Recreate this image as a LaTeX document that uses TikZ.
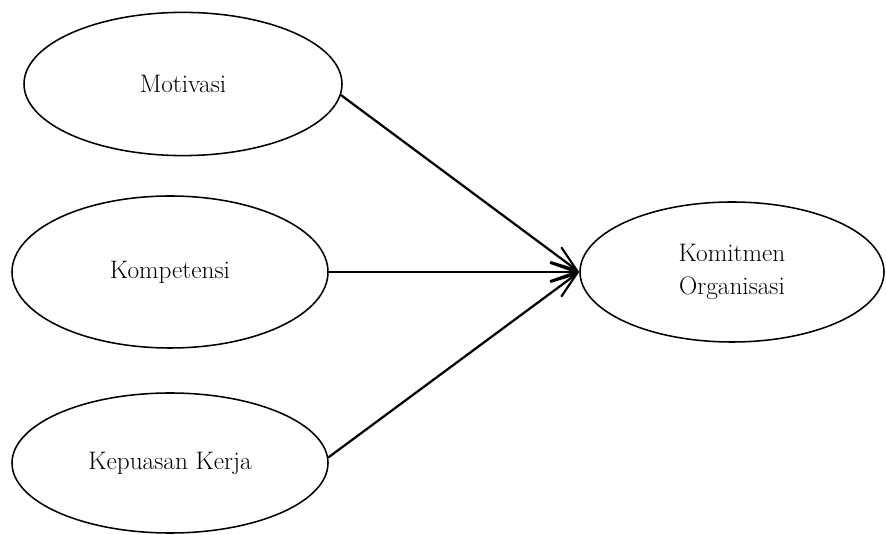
\documentclass[tikz,border=0pt]{standalone}
\usepackage{fontspec}
\usepackage{tikz}
\usetikzlibrary{arrows.meta,positioning,shapes.geometric}

\begin{document}
\begin{tikzpicture}[
  latent/.style={ellipse,draw=black,line width=1.1pt,inner sep=0pt,align=center,font=\fontsize{18}{23}\selectfont},
  arrow/.style={-{Straight Barb[length=6.5mm,width=4.6mm,line width=1.5pt]},line width=1.6pt,draw=black}
]
\useasboundingbox (0,0) rectangle (22.15,13.375);
\node[latent,minimum width=7.95cm,minimum height=3.58cm] (mot) at (4.575,11.275) {Motivasi};
\node[latent,minimum width=7.9cm,minimum height=3.8cm] (komp) at (4.25,6.575) {Kompetensi};
\node[latent,minimum width=7.9cm,minimum height=3.5cm] (kep) at (4.25,1.8) {Kepuasan Kerja};
\node[latent,minimum width=7.6cm,minimum height=3.5cm] (kom) at (18.3,6.575) {Komitmen\\Organisasi};
\draw[arrow] (mot.-4) -- (kom.west);
\draw[arrow] (komp.east) -- (kom.west);
\draw[arrow] (kep.2) -- (kom.west);
\end{tikzpicture}
\end{document}
